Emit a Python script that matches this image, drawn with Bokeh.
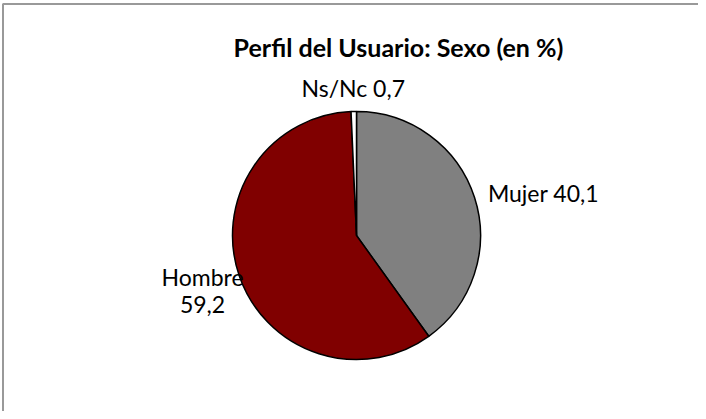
import math
from bokeh.plotting import figure
from bokeh.models import Range1d, ColumnDataSource
from bokeh.core.properties import value
from bokeh.embed import file_html
from bokeh.resources import INLINE

# ---- data ----
categories = ["Mujer", "Hombre", "Ns/Nc"]
values = [40.1, 59.2, 0.7]
label_texts = ["Mujer 40,1", "Hombre\n59,2", "Ns/Nc 0,7"]
title_text = "Perfil del Usuario: Sexo (en %)"

# ---- styles ----
colors = ["#808080", "#800000", "#FFFFFF"]
W, H = 698, 411
cx, cy, R = 356, 176, 124
FONT = "Lato"

p = figure(width=W, height=H, output_backend="svg", toolbar_location=None,
           x_range=Range1d(0, W), y_range=Range1d(0, H), min_border=0,
           x_axis_location=None, y_axis_location=None)
p.grid.visible = False
p.outline_line_color = None
p.background_fill_color = "white"
p.border_fill_color = "white"

# chart area border (left + top visible; rest cropped)
p.segment(x0=[2.5, 2], y0=[0, 407.5], x1=[2.5, W], y1=[407.5, 407.5],
          line_color="#999999", line_width=2)

# pie wedges, clockwise from 12 o'clock
total = sum(values)
starts, ends, mids = [], [], []
a = 90.0
for v in values:
    sweep = v / total * 360.0
    starts.append(math.radians(a))
    ends.append(math.radians(a - sweep))
    mids.append(math.radians(a - sweep / 2))
    a -= sweep

src = ColumnDataSource(dict(cat=categories, val=values, start=starts, end=ends, color=colors))
p.wedge(x=cx, y=cy, radius=R, start_angle="start", end_angle="end", direction="clock",
        fill_color="color", line_color="black", line_width=1.5, source=src)

# labels, positioned from slice mid-angles
pads = [14, 4, 24]
aligns = ["left", "right", "center"]
for txt, m, pad, al in zip(label_texts, mids, pads, aligns):
    lx = cx + (R + pad) * math.cos(m)
    ly = cy + (R + pad) * math.sin(m)
    lines = txt.split("\n")
    if len(lines) == 1:
        p.text(x=[lx], y=[ly], text=[txt], text_align=al, text_baseline="middle",
               text_font=value(FONT), text_font_size="23px", text_color="#000000")
    else:
        p.text(x=[lx - 33, lx - 33], y=[ly, ly - 27], text=lines, text_align="center",
               text_baseline="middle", text_font=value(FONT), text_font_size="23px",
               text_color="#000000")

p.text(x=[398], y=[H - 46], text=[title_text], text_align="center", text_baseline="middle",
       text_font=value(FONT), text_font_style="bold", text_font_size="25px", text_color="#000000")

open("out.html", "w").write(file_html(p, INLINE))
